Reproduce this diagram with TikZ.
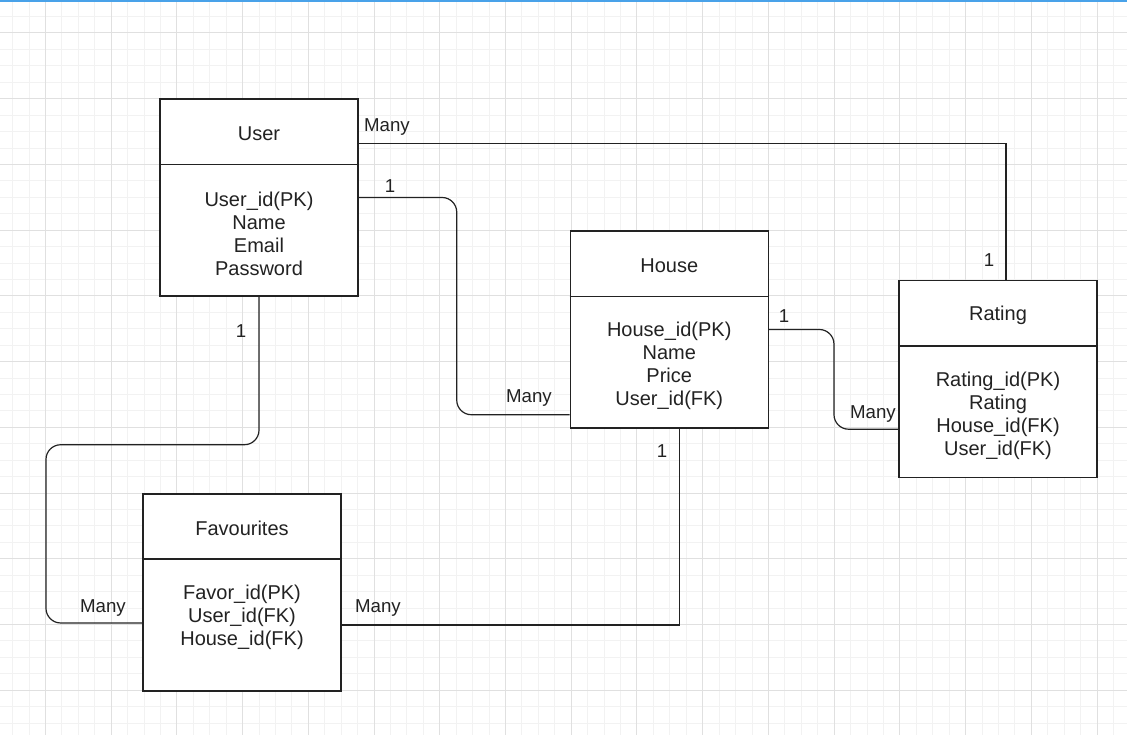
\documentclass[tikz,border=0pt]{standalone}
\usepackage{fontspec}
\setmainfont{Liberation Sans}
\usepackage{xcolor}
\usepackage{tikz}
\usetikzlibrary{positioning}
\definecolor{gridmin}{HTML}{F2F2F2}
\definecolor{gridmaj}{HTML}{E0E0E0}
\definecolor{topbar}{HTML}{49A2E9}
\definecolor{ink}{HTML}{222222}
\tikzset{
  entity/.style={draw=ink, line width=1.1pt, fill=white, minimum width=148.5pt, minimum height=147.75pt, inner sep=0pt},
  title/.style={font=\fontsize{15}{17.5}\selectfont, text=ink, inner sep=0pt},
  attrs/.style={font=\fontsize{15}{17.25}\selectfont, text=ink, align=center, inner sep=0pt},
  card/.style={font=\fontsize{14}{16}\selectfont, text=ink, inner sep=0pt},
  link/.style={draw=ink, line width=0.9pt}
}

\begin{document}
\begin{tikzpicture}[x=0.75pt, y=-0.75pt]
\useasboundingbox (0,0) rectangle (1127,735);
\fill[white] (0,0) rectangle (1127,735);
\foreach \i in {-2,...,66} \draw[gridmin, line width=0.75pt] ({45.5+16.43*\i},0) -- ({45.5+16.43*\i},735);
\foreach \j in {-1,...,43} \draw[gridmin, line width=0.75pt] (0,{33+16.43*\j}) -- (1127,{33+16.43*\j});
\foreach \i in {0,...,16} \draw[gridmaj, line width=0.75pt] ({45.5+65.72*\i},0) -- ({45.5+65.72*\i},735);
\foreach \j in {0,...,10} \draw[gridmaj, line width=0.75pt] (0,{33+65.72*\j}) -- (1127,{33+65.72*\j});
\fill[topbar] (0,0) rectangle (1127,2.5);

\node[entity] (user) at (259,197.5) {};
\node[entity] (house) at (669.25,329.5) {};
\node[entity] (rating) at (998,379) {};
\node[entity] (fav) at (242,592.3) {};
\foreach \e in {user,house,rating,fav}
  \draw[ink, line width=1.1pt] ([yshift=-49.5pt]\e.north west) -- ([yshift=-49.5pt]\e.north east);

\node[title] (usertitle) at ([yshift=-26.5pt]user.north) {User};
\node[title] (housetitle) at ([yshift=-26.5pt]house.north) {House};
\node[title] (ratingtitle) at ([yshift=-26.5pt]rating.north) {Rating};
\node[title] (favtitle) at ([yshift=-26.5pt]fav.north) {Favourites};
\node[attrs] (userattrs) at ([yshift=-102pt]user.north) {User\_id(PK)\\Name\\Email\\Password};
\node[attrs] (houseattrs) at ([yshift=-102pt]house.north) {House\_id(PK)\\Name\\Price\\User\_id(FK)};
\node[attrs] (ratingattrs) at ([yshift=-102pt]rating.north) {Rating\_id(PK)\\Rating\\House\_id(FK)\\User\_id(FK)};
\node[attrs] (favattrs) at ([yshift=-93pt]fav.north) {Favor\_id(PK)\\User\_id(FK)\\House\_id(FK)};

\draw[link] ([yshift=-33.75pt]user.north east) -| ([xshift=6pt]rating.north);
\draw[link, rounded corners=11pt] (user.east) -- ++(98,0) |- ([yshift=10.5pt]house.south west);
\draw[link, rounded corners=11pt] (house.east) -- ++(65,0) |- ([yshift=36.75pt]rating.south west);
\draw[link, rounded corners=11pt] (user.south) -- ++(0,148) -- ++(-213,0) |- ([yshift=-23pt]fav.west);
\draw[link] ([xshift=7.5pt]house.south) |- ([yshift=-24.5pt]fav.east);

\node[card] (ratingmany) at (387,127) {Many};
\node[card] (houseone) at (390,186) {1};
\node[card] (housemany) at (529,398) {Many};
\node[card] (rateone) at (784,316) {1};
\node[card] (ratemany) at (873,414) {Many};
\node[card] (userone) at (989,260) {1};
\node[card] (favone) at (241,331) {1};
\node[card] (favmany) at (103,608) {Many};
\node[card] (favhouseone) at (662,451) {1};
\node[card] (favhousemany) at (378,608) {Many};
\end{tikzpicture}
\end{document}
